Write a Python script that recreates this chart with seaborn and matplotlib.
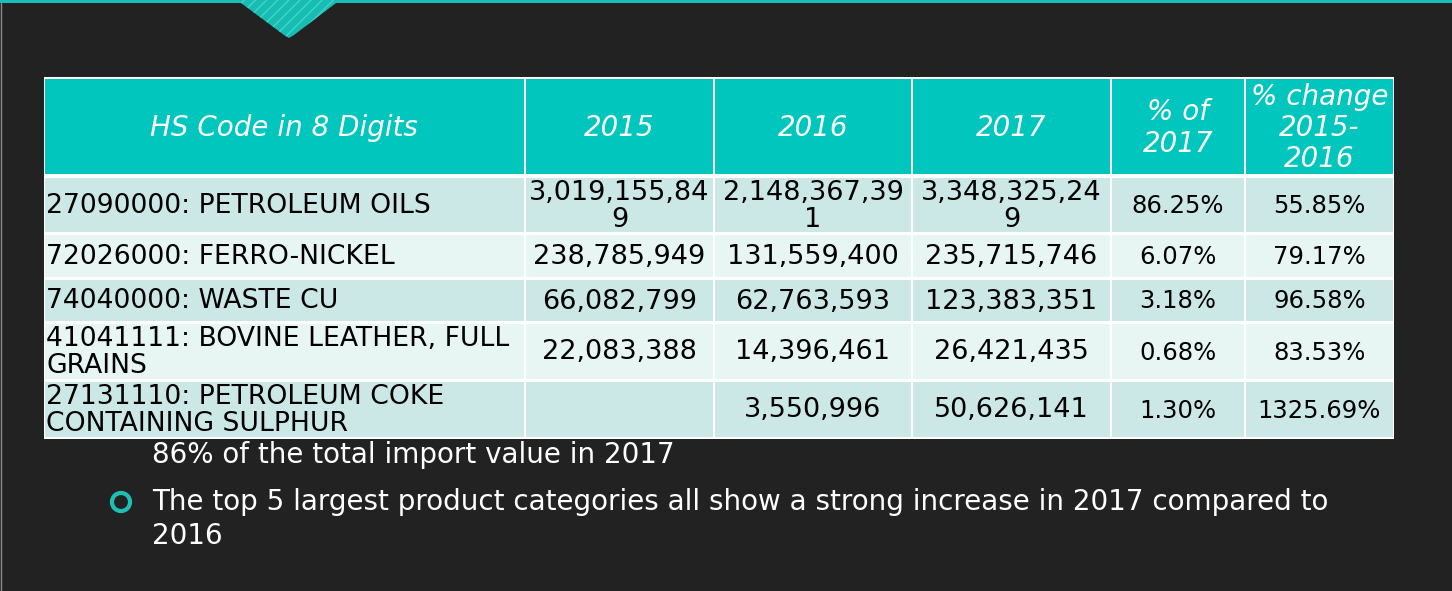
import matplotlib
matplotlib.use("Agg")
import matplotlib.pyplot as plt
from matplotlib.patches import Polygon
import seaborn as sns

# ---------------- data ----------------
header_labels = ["HS Code in 8 Digits", "2015", "2016", "2017", "% of\n2017", "% change\n2015-\n2016"]
hs_codes = ["27090000: PETROLEUM OILS",
            "72026000: FERRO-NICKEL",
            "74040000: WASTE CU",
            "41041111: BOVINE LEATHER, FULL\nGRAINS",
            "27131110: PETROLEUM COKE\nCONTAINING SULPHUR"]
values_2015 = [3019155849, 238785949, 66082799, 22083388, None]
values_2016 = [2148367391, 131559400, 62763593, 14396461, 3550996]
values_2017 = [3348325249, 235715746, 123383351, 26421435, 50626141]
share_2017 = [86.25, 6.07, 3.18, 0.68, 1.30]
change_pct = [55.85, 79.17, 96.58, 83.53, 1325.69]
bullet_lines = ["86% of the total import value in 2017",
                "The top 5 largest product categories all show a strong increase in 2017 compared to",
                "2016"]

# ---------------- style ----------------
sns.set_theme(style="dark")
plt.rcParams['font.family'] = ['DejaVu Sans']

BG = "#222222"
TEAL = "#00C6BE"
ROW_DARK = "#CBE8E6"
ROW_LIGHT = "#E7F5F3"

col_edges = [44, 525, 714, 912, 1111, 1245, 1394]
row_edges = [77, 175.5, 233.5, 278.5, 322.5, 380.5, 438.5]

fig = plt.figure(figsize=(14.52, 5.91), dpi=100)
fig.patch.set_facecolor(BG)
ax = fig.add_axes([0, 0, 1, 1])
ax.set_facecolor(BG)
ax.set_xlim(0, 1452)
ax.set_ylim(591, 0)
ax.axis("off")

# top teal line and left grey edge
ax.bar(0, 2.5, width=1452, bottom=0, align="edge", color="#19BFB5", linewidth=0)
ax.plot([0.5, 0.5], [2.5, 591], color="#8a8a8a", lw=1)

# decorative triangle
tri = Polygon([(237, 0), (340, 0), (294, 35), (289, 38), (284, 35)], closed=True,
              facecolor="#17BCB2", edgecolor="#45D3CA", hatch="///", linewidth=0)
ax.add_patch(tri)

# table white background
ax.bar(col_edges[0], row_edges[-1] - row_edges[0], width=col_edges[-1] - col_edges[0],
       bottom=row_edges[0], align="edge", color="white", linewidth=0)


def fmt_num(v):
    if v is None:
        return ""
    s = f"{v:,}"
    if len(s) > 12:
        s = s[:12] + "\n" + s[12:]
    return s


rows = []
for i in range(len(hs_codes)):
    rows.append([hs_codes[i], fmt_num(values_2015[i]), fmt_num(values_2016[i]),
                 fmt_num(values_2017[i]), f"{share_2017[i]:.2f}%", f"{change_pct[i]:.2f}%"])

g = 1.2
# header cells
for c in range(6):
    x0 = col_edges[c] + g
    w = col_edges[c + 1] - col_edges[c] - 2 * g
    y0 = row_edges[0] + 2
    h = 173.5 - y0
    ax.bar(x0, h, width=w, bottom=y0, align="edge", color=TEAL, linewidth=0)
    cx = (col_edges[c] + col_edges[c + 1]) / 2
    ax.text(cx, 128, header_labels[c], ha="center", va="center", color="white",
            fontsize=20, style="italic", linespacing=1.15)

# body cells
for r in range(len(rows)):
    color = ROW_DARK if r % 2 == 0 else ROW_LIGHT
    top = (178 if r == 0 else row_edges[r + 1] + g)
    bot = row_edges[r + 2] - g
    cy = (top + bot) / 2
    for c in range(6):
        x0 = col_edges[c] + g
        w = col_edges[c + 1] - col_edges[c] - 2 * g
        ax.bar(x0, bot - top, width=w, bottom=top, align="edge", color=color, linewidth=0)
        if c == 0:
            ax.text(col_edges[0] + 2, cy + 1, rows[r][c], ha="left", va="center",
                    color="black", fontsize=19.2, linespacing=1.05)
        elif c <= 3:
            cx = (col_edges[c] + col_edges[c + 1]) / 2
            ax.text(cx, cy + 1, rows[r][c], ha="center", va="center",
                    color="black", fontsize=19.5, linespacing=1.05)
        else:
            cx = (col_edges[c] + col_edges[c + 1]) / 2
            ax.text(cx, cy + 1, rows[r][c], ha="center", va="center",
                    color="black", fontsize=17.5)

# bullet text
ax.text(152, 455, bullet_lines[0], ha="left", va="center", color="white", fontsize=20)
ax.text(152, 502, bullet_lines[1], ha="left", va="center", color="white", fontsize=20)
ax.text(152, 536, bullet_lines[2], ha="left", va="center", color="white", fontsize=20)
sns.scatterplot(x=[121], y=[502], marker="o", s=170, facecolors="none",
                edgecolor="#1DBFB3", linewidth=3, ax=ax, legend=False)
ax.set_xlim(0, 1452)
ax.set_ylim(591, 0)
ax.axis("off")

fig.savefig("out.png", dpi=100, facecolor=BG)
